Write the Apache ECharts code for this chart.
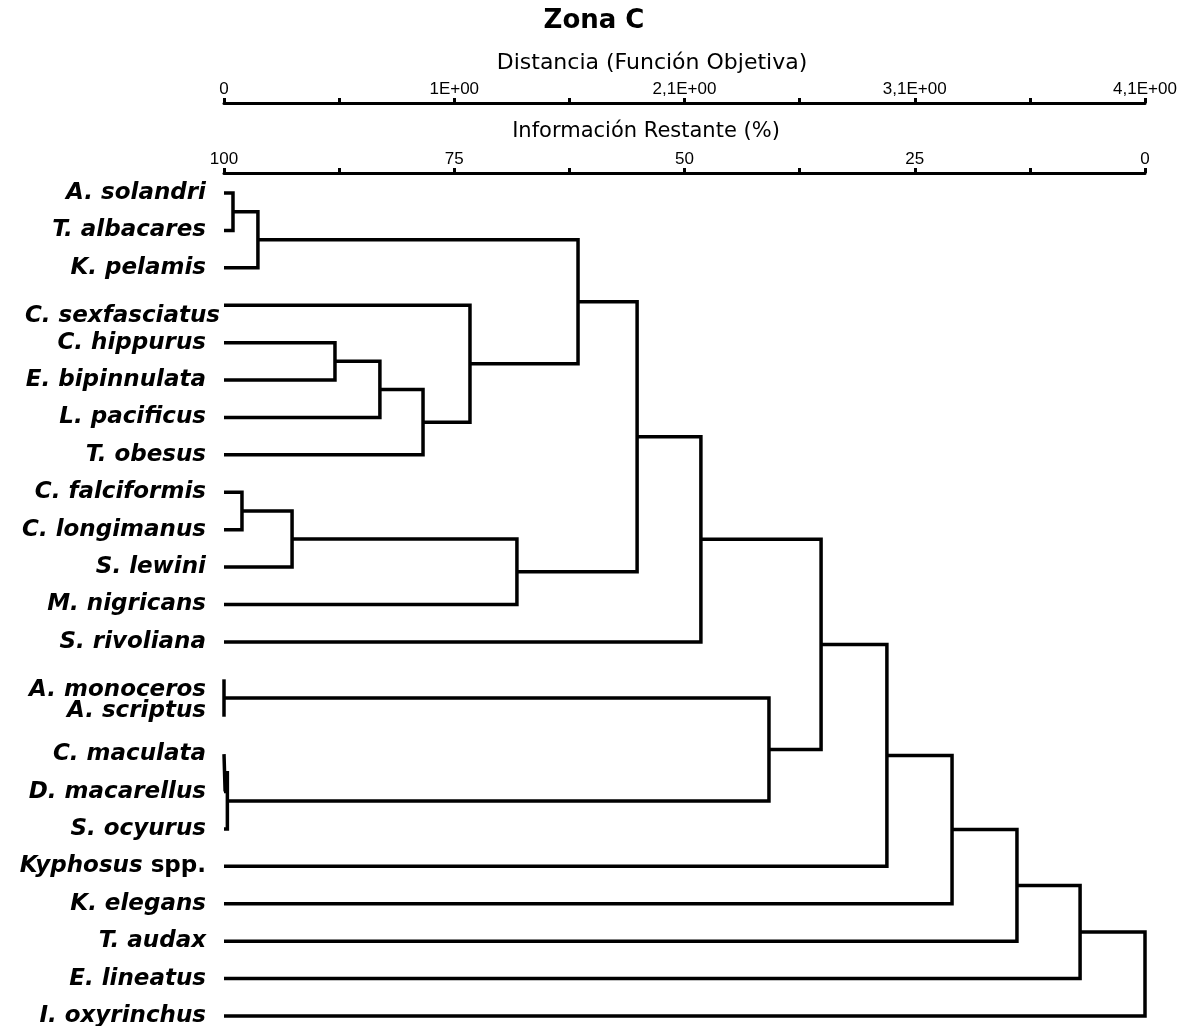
<!DOCTYPE html>
<html><head><meta charset="utf-8">
<script src="https://cdn.jsdelivr.net/npm/echarts@6/dist/echarts.min.js"></script>
<style>html,body{margin:0;padding:0;background:#fff}#c{width:1188px;height:1026px}</style>
</head><body><div id="c"></div>
<script>
// Leaves (top to bottom)
const species = ['A. solandri','T. albacares','K. pelamis','C. sexfasciatus','C. hippurus','E. bipinnulata',
  'L. pacificus','T. obesus','C. falciformis','C. longimanus','S. lewini','M. nigricans','S. rivoliana',
  'A. monoceros','A. scriptus','C. maculata','D. macarellus','S. ocyurus','Kyphosus spp.','K. elegans',
  'T. audax','E. lineatus','I. oxyrinchus'];
// Linkage: Lk = leaf k, Mk = merge k; height in distance (objective function)
const mergeLeft   = ['L0','M0','L4','M2','M3','L3','M1','L8','M7','M8','M6','M10','L13','L15','M13','M12','M11','M16','M17','M18','M19','M20'];
const mergeRight  = ['L1','L2','L5','L6','L7','M4','M5','L9','L10','L11','M9','L12','L14','L16','L17','M14','M15','L18','L19','L20','L21','L22'];
const mergeHeight = [0.040,0.151,0.494,0.694,0.886,1.095,1.576,0.080,0.303,1.304,1.839,2.123,0.000,0.005,0.015,2.426,2.658,2.951,3.241,3.530,3.811,4.100];
// Tick labels
const distTickLabels = ['0','','1E+00','','2,1E+00','','3,1E+00','','4,1E+00'];
const infoTickLabels = ['0','','25','','50','','75','','100'];

const nodes = [];
function node(id){ const k = +id.slice(1); return id[0]==='L' ? {h:0, y:k} : nodes[k]; }
const series = [];
for (let i = 0; i < mergeHeight.length; i++) {
  const a = node(mergeLeft[i]), b = node(mergeRight[i]), h = mergeHeight[i];
  nodes.push({h: h, y: (a.y + b.y) / 2});
  series.push({
    type: 'line', xAxisIndex: 0, yAxisIndex: 0, symbol: 'none', clip: false, silent: true,
    data: [[a.h, a.y], [h, a.y], [h, b.y], [b.h, b.y]],
    lineStyle: {color: '#000', width: 3.5, join: 'miter', cap: 'butt'}
  });
}

const FONT = 'DejaVu Sans';
const base = {fontFamily: FONT, fontSize: 23, fontWeight: 'bold', fontStyle: 'italic', color: '#000'};
const rich = {
  s: Object.assign({}, base),
  dn: Object.assign({}, base, {padding: [22, 0, 0, 0]}),
  up: Object.assign({}, base, {padding: [0, 0, 11, 0]}),
  sx: Object.assign({}, base, {padding: [22, 0, 0, 0]}),
  n: Object.assign({}, base, {fontStyle: 'normal'})
};
function leafLabel(v) {
  const name = species[v];
  if (name === undefined) return '';
  if (v === 13) return '{dn|' + name + '}';
  if (v === 14) return '{up|' + name + '}';
  if (name === 'Kyphosus spp.') return '{s|Kyphosus}{n| spp.}';
  return '{s|' + name + '}';
}
const yCommon = {
  type: 'value', inverse: true, min: 0, max: species.length - 1, interval: 1, position: 'left',
  axisLine: {show: false}, axisTick: {show: false}, splitLine: {show: false}
};
const xCommon = {
  type: 'value', position: 'top', splitLine: {show: false},
  axisLine: {show: true, onZero: false, lineStyle: {color: '#000', width: 3}},
  axisTick: {show: true, length: 5, lineStyle: {color: '#000', width: 3}}
};
const tickFont = {margin: 5, fontFamily: 'Liberation Sans', fontSize: 17, color: '#000'};
const chart = echarts.init(document.getElementById('c'), null, {renderer: 'canvas'});
chart.setOption({
  backgroundColor: '#fff',
  animation: false,
  grid: {left: 224, right: 43, top: 193, bottom: 10, containLabel: false, outerBoundsMode: 'none'},
  xAxis: [
    Object.assign({}, xCommon, {offset: 90, min: 0, max: 4.1, interval: 0.5125,
      axisLabel: Object.assign({}, tickFont, {formatter: v => distTickLabels[Math.round(v / 0.5125)] || ''})}),
    Object.assign({}, xCommon, {offset: 20, min: 0, max: 100, interval: 12.5, inverse: true,
      axisLabel: Object.assign({}, tickFont, {formatter: v => infoTickLabels[Math.round(v / 12.5)] || ''})})
  ],
  yAxis: [
    Object.assign({}, yCommon, {axisLabel: {margin: 18, align: 'right', rich: rich,
      formatter: v => (v === 3 ? '' : leafLabel(v))}}),
    Object.assign({}, yCommon, {axisLabel: {margin: 4, align: 'right', rich: rich,
      formatter: v => (v === 3 ? '{sx|' + species[3] + '}' : '')}})
  ],
  graphic: [
    {type: 'text', x: 594, y: 21, silent: true, style: {text: 'Zona C', fontFamily: FONT, fontWeight: 'bold', fontSize: 26, fill: '#000', align: 'center', verticalAlign: 'middle'}},
    {type: 'text', x: 652, y: 63, silent: true, style: {text: 'Distancia (Función Objetiva)', fontFamily: FONT, fontSize: 22, fill: '#000', align: 'center', verticalAlign: 'middle'}},
    {type: 'text', x: 646, y: 132, silent: true, style: {text: 'Información Restante (%)', fontFamily: FONT, fontSize: 21, fill: '#000', align: 'center', verticalAlign: 'middle'}}
  ],
  series: series
});
</script>
</body></html>
